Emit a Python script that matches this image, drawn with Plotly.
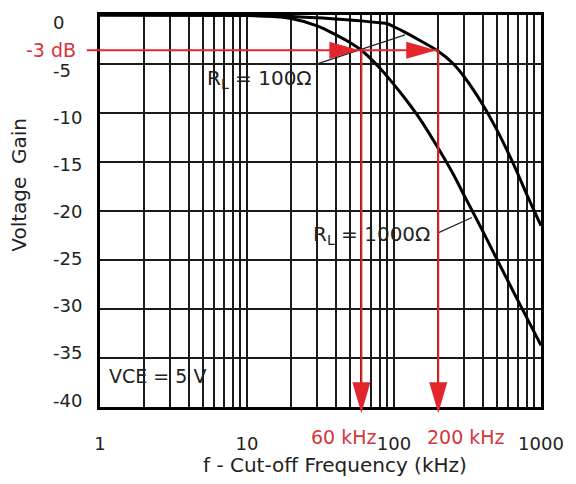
import math
import plotly.graph_objects as go

# ---------------- data ----------------
freq_1000 = [1, 3, 10, 15, 20, 30, 40, 50, 60, 80, 100, 120, 150, 200, 250, 300, 400, 500, 700, 1000]
gain_1000 = [0, 0, -0.05, -0.15, -0.35, -1.1, -2.0, -2.8, -3.6, -5.4, -7.1, -8.6, -10.6, -13.6,
             -16.1, -18.4, -22.0, -24.9, -29.2, -33.7]

freq_100 = [1, 10, 20, 40, 60, 80, 90, 100, 120, 150, 200, 250, 300, 400, 500, 600, 700, 800, 1000]
gain_100 = [0, -0.05, -0.15, -0.4, -0.6, -0.8, -0.9, -1.2, -1.8, -2.6, -3.7, -4.9, -6.3, -9.1,
            -11.7, -14.1, -16.3, -18.3, -21.5]

y_tick_values = [0, -5, -10, -15, -20, -25, -30, -35, -40]
y_tick_labels = ["0", "-5", "-10", "-15", "-20", "-25", "-30", "-35", "-40"]
x_major_values = [1, 10, 100, 1000]
x_major_labels = ["1", "10", "100", "1000"]

cutoff_freqs = [60, 200]
cutoff_labels = ["60 kHz", "200 kHz"]
cutoff_level_drawn = -3.6   # level at which the "-3 dB" line is drawn in the picture
cutoff_text = "-3 dB"

RED = "#e2262c"
GRID = "#1a1a1a"
FONT = "DejaVu Sans"

# log minor grid: 2..9 x 10^k
x_minor_values = [m * 10 ** k for k in range(3) for m in range(2, 10)]

XMIN, XMAX = 0, 3  # log10 range


def xp(f):
    """paper x of a frequency"""
    return (math.log10(f) - XMIN) / (XMAX - XMIN)


def yp(db):
    return (db + 40) / 40.0


fig = go.Figure()
fig.add_trace(go.Scatter(x=freq_1000, y=gain_1000, mode="lines",
                         line=dict(color="black", width=3, shape="spline", smoothing=1.0),
                         name="RL = 1000Ω", hoverinfo="skip"))
fig.add_trace(go.Scatter(x=freq_100, y=gain_100, mode="lines",
                         line=dict(color="black", width=3, shape="spline", smoothing=1.0),
                         name="RL = 100Ω", hoverinfo="skip"))

shapes = []
# white label backgrounds that hide the grid (drawn between grid and traces)
for (x0, x1, y0, y1) in [(0.2336, 0.485, -4.66, -7.9),
                         (0.4535, 0.762, -20.25, -23.6),
                         (0.034, 0.2676, -34.85, -38.6)]:
    shapes.append(dict(type="rect", xref="paper", yref="y", x0=x0, x1=x1, y0=y0, y1=y1,
                       fillcolor="white", line=dict(width=0), layer="between"))

# leader lines
shapes.append(dict(type="line", xref="paper", yref="y", x0=0.4875, x1=0.6916, y0=-5.06, y1=-2.03,
                   line=dict(color="#222", width=1.2), layer="above"))
shapes.append(dict(type="line", xref="paper", yref="y", x0=0.764, x1=0.8435, y0=-22.28, y1=-20.66,
                   line=dict(color="#222", width=1.2), layer="above"))

# red -3 dB horizontal line (starts left of the axis)
shapes.append(dict(type="line", xref="paper", yref="y", x0=-0.03, x1=xp(cutoff_freqs[1]),
                   y0=cutoff_level_drawn, y1=cutoff_level_drawn,
                   line=dict(color=RED, width=2), layer="above"))
tip_y = -0.016
for f in cutoff_freqs:
    # vertical red line down below the axis
    shapes.append(dict(type="line", xref="paper", yref="paper", x0=xp(f), x1=xp(f),
                       y0=yp(cutoff_level_drawn), y1=tip_y + 0.02,
                       line=dict(color=RED, width=2), layer="above"))
    # downward arrowhead (tip as anchor)
    shapes.append(dict(type="path", xref="paper", yref="paper", xsizemode="pixel", ysizemode="pixel",
                       xanchor=xp(f), yanchor=tip_y, path="M-9,31 L9,31 L0,0 Z",
                       fillcolor=RED, line=dict(width=0), layer="above"))
    # rightward arrowhead on the -3 dB line
    shapes.append(dict(type="path", xref="paper", yref="y", xsizemode="pixel", ysizemode="pixel",
                       xanchor=xp(f), yanchor=cutoff_level_drawn, path="M-32,-8.5 L-32,8.5 L-2,0 Z",
                       fillcolor=RED, line=dict(width=0), layer="above"))

annotations = []
# y tick labels (left-aligned, as in the picture)
for v, t in zip(y_tick_values, y_tick_labels):
    px = 20 + 9.5 * (-v)
    annotations.append(dict(text=t, xref="paper", yref="y", x=-0.111, y=-(px - 12) / 9.875,
                            xanchor="left", yanchor="middle", showarrow=False,
                            font=dict(family=FONT, size=18, color="#222")))
annotations.append(dict(text=cutoff_text, xref="paper", yref="y", x=-0.05, y=cutoff_level_drawn,
                        xanchor="right", yanchor="middle", showarrow=False,
                        font=dict(family=FONT, size=19, color="#d8343a")))
for f, t, xc in zip(cutoff_freqs, cutoff_labels, [0.553, 0.830]):
    annotations.append(dict(text=t, xref="paper", yref="paper", x=xc, y=-0.076,
                            xanchor="center", yanchor="middle", showarrow=False,
                            font=dict(family=FONT, size=19, color="#d8343a")))
annotations.append(dict(text="R<sub>L</sub> = 100Ω", xref="x", yref="y", x=1.088, y=-6.5,
                        xanchor="center", yanchor="middle", showarrow=False,
                        font=dict(family=FONT, size=20, color="#222")))
annotations.append(dict(text="R<sub>L</sub> = 1000Ω", xref="x", yref="y", x=1.850, y=-22.4,
                        xanchor="center", yanchor="middle", showarrow=False,
                        font=dict(family=FONT, size=20, color="#222")))
annotations.append(dict(text="VCE = 5 V", xref="x", yref="y", x=0.391, y=-36.8,
                        xanchor="center", yanchor="middle", showarrow=False,
                        font=dict(family=FONT, size=19, color="#222")))
# axis titles
annotations.append(dict(text="f - Cut-off Frequency (kHz)", xref="paper", yref="paper",
                        x=0.533, y=-0.149, xanchor="center", yanchor="middle", showarrow=False,
                        font=dict(family=FONT, size=20, color="#222")))
annotations.append(dict(text="Voltage  Gain", xref="paper", yref="paper", textangle=-90,
                        x=(19 - 100) / 441, y=(407 - 183) / 395, xanchor="center", yanchor="middle",
                        showarrow=False, font=dict(family=FONT, size=20, color="#222")))

fig.update_layout(
    width=576, height=484,
    margin=dict(l=100, r=35, t=12, b=77),
    plot_bgcolor="white", paper_bgcolor="white",
    showlegend=False,
    font=dict(family=FONT, color="#222"),
    shapes=shapes, annotations=annotations,
    xaxis=dict(type="log", range=[XMIN, XMAX], tickmode="array", tickvals=x_major_values,
               ticktext=x_major_labels, showgrid=True, gridcolor=GRID, gridwidth=1.5,
               minor=dict(tickvals=x_minor_values, showgrid=True, gridcolor=GRID, gridwidth=1.5,
                          ticks=""),
               showline=True, linecolor="black", linewidth=3, mirror=True, ticks="",
               tickfont=dict(family=FONT, size=18, color="#222"), ticklabelstandoff=18,
               zeroline=False, fixedrange=True),
    yaxis=dict(range=[-40, 0], tickmode="array", tickvals=y_tick_values, showticklabels=False,
               showgrid=True, gridcolor=GRID, gridwidth=2, showline=True, linecolor="black",
               linewidth=3, mirror=True, ticks="", zeroline=False, fixedrange=True),
)

fig.write_html("out.html")
